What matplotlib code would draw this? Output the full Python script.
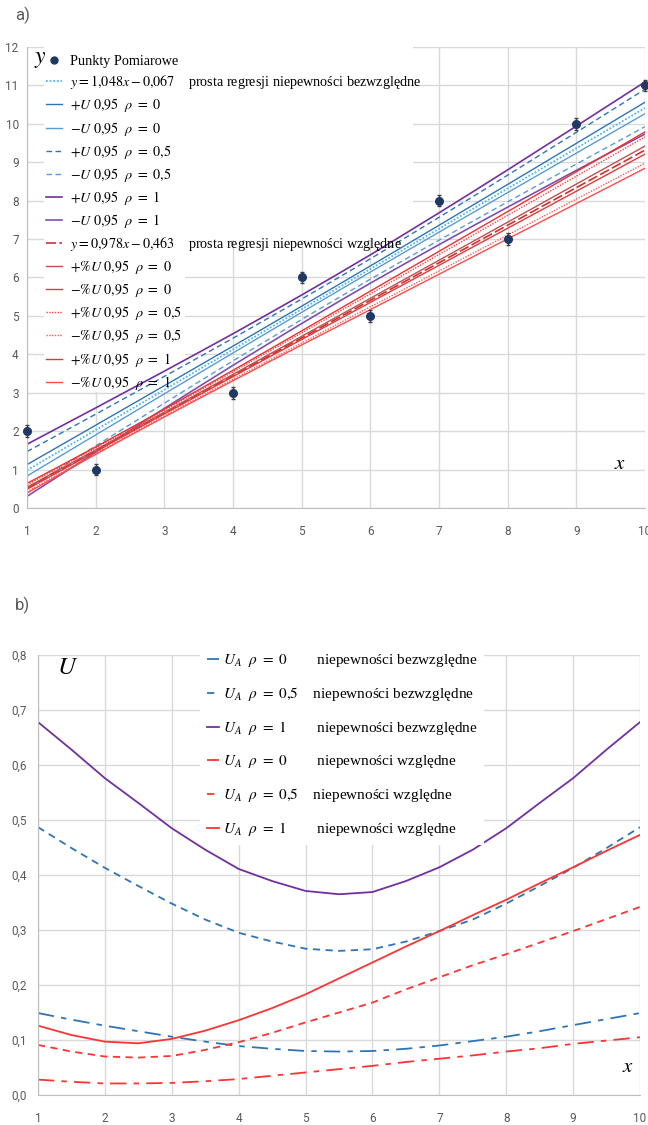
import matplotlib
matplotlib.use("Agg")
import matplotlib.pyplot as plt
from matplotlib.patches import Rectangle
from matplotlib.lines import Line2D
import numpy as np

plt.rcParams['mathtext.fontset'] = 'stix'
plt.rcParams['font.family'] = ['Liberation Serif', 'DejaVu Serif']

# measured points
x_pts = [1, 2, 4, 5, 6, 7, 8, 9, 10]
y_pts = [2, 1, 3, 6, 5, 8, 7, 10, 11]
y_err = [0.15, 0.15, 0.15, 0.15, 0.15, 0.15, 0.15, 0.15, 0.15]

# regression coefficients (slope, intercept) from the legend
reg_abs = (1.048, -0.067)
reg_rel = (0.978, -0.463)

# x grid at which the uncertainty curves were read off panel b)
x_line = [1, 1.5, 2, 2.5, 3, 3.5, 4, 4.5, 5, 5.5, 6, 6.5, 7, 7.5, 8, 8.5, 9, 9.5, 10]
U_abs_r0 = [0.149, 0.137, 0.126, 0.116, 0.106, 0.097, 0.089, 0.084, 0.080, 0.079,
            0.080, 0.084, 0.090, 0.098, 0.106, 0.116, 0.127, 0.138, 0.149]
U_abs_r05 = [0.487, 0.449, 0.413, 0.380, 0.348, 0.319, 0.295, 0.279, 0.266, 0.262,
             0.265, 0.279, 0.298, 0.319, 0.348, 0.380, 0.413, 0.449, 0.487]
U_abs_r1 = [0.678, 0.628, 0.576, 0.531, 0.485, 0.446, 0.411, 0.389, 0.371, 0.365,
            0.369, 0.389, 0.414, 0.446, 0.485, 0.531, 0.576, 0.628, 0.678]
U_rel_r0 = [0.028, 0.024, 0.021, 0.021, 0.022, 0.025, 0.029, 0.035, 0.041, 0.047,
            0.053, 0.060, 0.066, 0.072, 0.079, 0.085, 0.093, 0.099, 0.105]
U_rel_r05 = [0.091, 0.079, 0.070, 0.068, 0.071, 0.082, 0.096, 0.113, 0.132, 0.150,
             0.168, 0.192, 0.214, 0.236, 0.256, 0.277, 0.298, 0.320, 0.342]
U_rel_r1 = [0.126, 0.109, 0.097, 0.094, 0.102, 0.117, 0.136, 0.158, 0.183, 0.212,
            0.241, 0.270, 0.298, 0.327, 0.355, 0.385, 0.414, 0.444, 0.473]

xticks = [1, 2, 3, 4, 5, 6, 7, 8, 9, 10]
yticks_a = list(range(0, 13))
yticks_b = [0, 0.1, 0.2, 0.3, 0.4, 0.5, 0.6, 0.7, 0.8]
ylabels_b = ['0,0', '0,1', '0,2', '0,3', '0,4', '0,5', '0,6', '0,7', '0,8']

tick_font = dict(family='Roboto', size=8.5, color='#595959')
grid_c = '#D9D9D9'

W, H = 648, 1125
fig = plt.figure(figsize=(W / 100, H / 100), dpi=100)


def style_axes(ax):
    ax.set_axisbelow(True)
    ax.grid(True, color=grid_c, lw=1, zorder=0.5)
    for s in ['top', 'right']:
        ax.spines[s].set_visible(False)
    for s in ['left', 'bottom']:
        ax.spines[s].set_color('#BFBFBF')
    ax.tick_params(length=0)
    for lab in ax.get_xticklabels() + ax.get_yticklabels():
        lab.set_fontfamily(tick_font['family'])
        lab.set_fontsize(tick_font['size'])
        lab.set_color(tick_font['color'])


# ---------------- panel a)
ax1 = fig.add_axes([27 / W, 1 - 508 / H, 618 / W, 461 / H])
x = np.array(x_line)
ya = reg_abs[0] * x + reg_abs[1]
yr = reg_rel[0] * x + reg_rel[1]

ax1.errorbar(x_pts, y_pts, yerr=y_err, fmt='o', color='#1F3864', ms=5.5,
             ecolor='#404040', elinewidth=1, capsize=1.5, clip_on=False, zorder=6)
ax1.plot(x, ya, color='#4DB8E8', ls=(0, (1, 1)), lw=1.3,
         label=r'$y = 1{,}048x - 0{,}067$    prosta regresji niepewności bezwzględne')
ax1.plot(x, ya + U_abs_r0, color='#2E75B6', lw=1, label=r'$+U\ 0{,}95\ \ \rho\ =\ 0$')
ax1.plot(x, ya - np.array(U_abs_r0), color='#5B9BD5', lw=1, label=r'$-U\ 0{,}95\ \ \rho\ =\ 0$')
ax1.plot(x, ya + U_abs_r05, color='#2E75B6', lw=1, ls=(0, (4, 2.5)), label=r'$+U\ 0{,}95\ \ \rho\ =\ 0{,}5$')
ax1.plot(x, ya - np.array(U_abs_r05), color='#5B9BD5', lw=1, ls=(0, (4, 2.5)), label=r'$-U\ 0{,}95\ \ \rho\ =\ 0{,}5$')
ax1.plot(x, ya + U_abs_r1, color='#7030A0', lw=1.2, label=r'$+U\ 0{,}95\ \ \rho\ =\ 1$')
ax1.plot(x, ya - np.array(U_abs_r1), color='#7F4FB0', lw=1.2, label=r'$-U\ 0{,}95\ \ \rho\ =\ 1$')
ax1.plot(x, yr, color='#D03030', lw=1.2, ls=(0, (6, 2)),
         label=r'$y = 0{,}978x - 0{,}463$    prosta regresji niepewności względne')
ax1.plot(x, yr + U_rel_r0, color='#C0504D', lw=1, label=r'$+\%U\ 0{,}95\ \ \rho\ =\ 0$')
ax1.plot(x, yr - np.array(U_rel_r0), color='#E03A3A', lw=1, label=r'$-\%U\ 0{,}95\ \ \rho\ =\ 0$')
ax1.plot(x, yr + U_rel_r05, color='#FF4040', lw=1, ls=(0, (1, 1)), label=r'$+\%U\ 0{,}95\ \ \rho\ =\ 0{,}5$')
ax1.plot(x, yr - np.array(U_rel_r05), color='#FF5A5A', lw=1, ls=(0, (1, 1)), label=r'$-\%U\ 0{,}95\ \ \rho\ =\ 0{,}5$')
ax1.plot(x, yr + U_rel_r1, color='#F03030', lw=1, label=r'$+\%U\ 0{,}95\ \ \rho\ =\ 1$')
ax1.plot(x, yr - np.array(U_rel_r1), color='#FF4A4A', lw=1, label=r'$-\%U\ 0{,}95\ \ \rho\ =\ 1$')

ax1.set_xlim(1, 10)
ax1.set_ylim(0, 12)
ax1.set_xticks(xticks)
ax1.set_yticks(yticks_a)
ax1.tick_params(axis='x', pad=12)
ax1.tick_params(axis='y', pad=6)
style_axes(ax1)


def fa(px, py):
    return ((px - 27) / 618, (508 - py) / 461)


# white background behind the legend (as in the spreadsheet)
x0, y0 = fa(44, 240)
x1, y1 = fa(413, 47)
ax1.add_patch(Rectangle((x0, y0), x1 - x0, y1 - y0, transform=ax1.transAxes,
                        facecolor='white', edgecolor='none', zorder=1.5))
x0, y0 = fa(44, 392)
x1, y1 = fa(185, 240)
ax1.add_patch(Rectangle((x0, y0), x1 - x0, y1 - y0, transform=ax1.transAxes,
                        facecolor='white', edgecolor='none', zorder=1.5))

h, l = ax1.get_legend_handles_labels()
pt_handle = Line2D([], [], ls='none', marker='o', ms=5, color='#1F3864')
leg1 = ax1.legend([pt_handle] + h, ['Punkty Pomiarowe'] + l, loc='upper left',
                  bbox_to_anchor=fa(42, 51), frameon=False,
                  fontsize=10.2, handlelength=1.1, handletextpad=0.6,
                  labelspacing=0.36, borderpad=0.3, borderaxespad=0)

ax1.text(*fa(40, 60), r'$y$', transform=ax1.transAxes, fontsize=17, ha='center', va='center')
ax1.text(*fa(620, 465), r'$x$', transform=ax1.transAxes, fontsize=15, ha='center', va='center')
fig.text(15 / W, 1 - 15 / H, 'a)', fontsize=12, color='#595959', family='Roboto',
         ha='left', va='center')

# ---------------- panel b)
ax2 = fig.add_axes([38 / W, 1 - 1095 / H, 602 / W, 440 / H])
sp0 = ' ' * 8
sp5 = ' ' * 4
ax2.plot(x_line, U_abs_r0, color='#2E75B6', lw=1.3, ls=(0, (9, 4, 3, 4)),
         label=r'$U_A\ \ \rho\ =\ 0$' + sp0 + 'niepewności bezwzględne')
ax2.plot(x_line, U_abs_r05, color='#2E75B6', lw=1.3, ls=(0, (4, 3)),
         label=r'$U_A\ \ \rho\ =\ 0{,}5$' + sp5 + 'niepewności bezwzględne')
ax2.plot(x_line, U_abs_r1, color='#7030A0', lw=1.3,
         label=r'$U_A\ \ \rho\ =\ 1$' + sp0 + 'niepewności bezwzględne')
ax2.plot(x_line, U_rel_r0, color='#FF3333', lw=1.3, ls=(0, (9, 4, 3, 4)),
         label=r'$U_A\ \ \rho\ =\ 0$' + sp0 + 'niepewności względne')
ax2.plot(x_line, U_rel_r05, color='#FF3333', lw=1.3, ls=(0, (4, 3)),
         label=r'$U_A\ \ \rho\ =\ 0{,}5$' + sp5 + 'niepewności względne')
ax2.plot(x_line, U_rel_r1, color='#FF3333', lw=1.3,
         label=r'$U_A\ \ \rho\ =\ 1$' + sp0 + 'niepewności względne')

ax2.set_xlim(1, 10)
ax2.set_ylim(0, 0.8)
ax2.set_xticks(xticks)
ax2.set_yticks(yticks_b)
ax2.set_yticklabels(ylabels_b)
ax2.tick_params(axis='x', pad=12)
ax2.tick_params(axis='y', pad=8)
style_axes(ax2)


def fb(px, py):
    return ((px - 38) / 602, (1095 - py) / 440)


leg2 = ax2.legend(loc='upper left', bbox_to_anchor=fb(200, 645), frameon=True,
                  fontsize=11, handlelength=0.8, handletextpad=0.25,
                  labelspacing=1.05, borderpad=0.45, borderaxespad=0, fancybox=False)
leg2.get_frame().set_facecolor('white')
leg2.get_frame().set_edgecolor('none')
leg2.get_frame().set_alpha(1)

ax2.text(*fb(68, 668), r'$U$', transform=ax2.transAxes, fontsize=18, ha='center', va='center')
ax2.text(*fb(628, 1068), r'$x$', transform=ax2.transAxes, fontsize=15, ha='center', va='center')
fig.text(15 / W, 1 - 605 / H, 'b)', fontsize=12, color='#595959', family='Roboto',
         ha='left', va='center')

fig.savefig('out.png', dpi=100)
